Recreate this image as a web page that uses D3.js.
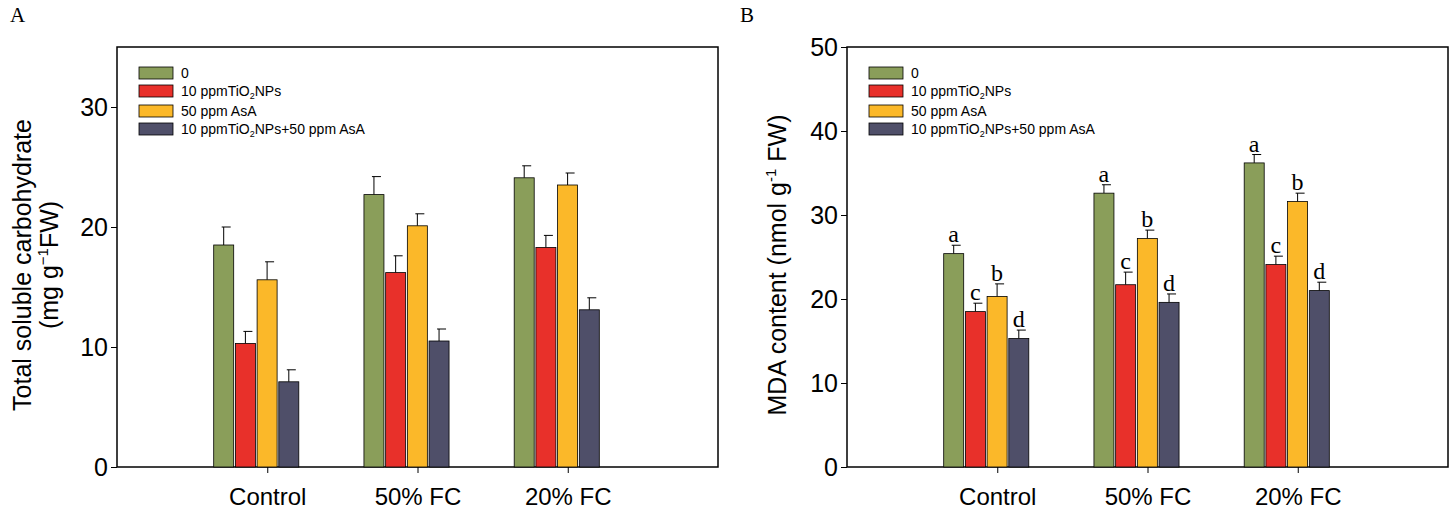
<!DOCTYPE html>
<html>
<head>
<meta charset="utf-8">
<script src="https://cdn.jsdelivr.net/npm/d3@7"></script>
<style>
  body { margin: 0; background: #fff; }
  svg text { font-family: "Liberation Sans", Arial, sans-serif; }
</style>
</head>
<body>
<svg id="chart" width="1449" height="512"></svg>
<script>
const categories = ["Control", "50% FC", "20% FC"];
const seriesNames = ["0", "10 ppmTiO2NPs", "50 ppm AsA", "10 ppmTiO2NPs+50 ppm AsA"];
const colors = ["#8a9e5a", "#e8302a", "#fbb829", "#4f4f69"];

// panel A: total soluble carbohydrate
const carbMean = [[18.5, 22.7, 24.1], [10.3, 16.2, 18.3], [15.6, 20.1, 23.5], [7.1, 10.5, 13.1]];
const carbErr = [[1.5, 1.5, 1.0], [1.0, 1.4, 1.0], [1.5, 1.0, 1.0], [1.0, 1.0, 1.0]];
const carbTicks = [0, 10, 20, 30];

// panel B: MDA content
const mdaMean = [[25.4, 32.6, 36.2], [18.5, 21.7, 24.1], [20.3, 27.2, 31.6], [15.3, 19.6, 21.0]];
const mdaErr = [[1.0, 1.0, 1.0], [1.0, 1.5, 1.0], [1.5, 1.0, 1.0], [1.0, 1.0, 1.0]];
const mdaTicks = [0, 10, 20, 30, 40, 50];
const mdaLetters = [["a", "a", "a"], ["c", "c", "c"], ["b", "b", "b"], ["d", "d", "d"]];

const svg = d3.select("#chart");

function panel(opts) {
  const left = opts.left, right = opts.left + 601, top = 47, bottom = 467;
  const g = svg.append("g");
  const x = d3.scaleLinear().domain([0, 4]).range([left, right]);
  const y = d3.scaleLinear().domain([0, opts.ymax]).range([bottom, top]);
  const barW = 20, step = 21.7, shift = -11;

  g.append("rect").attr("x", left).attr("y", top)
    .attr("width", right - left).attr("height", bottom - top)
    .attr("fill", "none").attr("stroke", "#000").attr("stroke-width", 1.5);

  const yAxis = g.append("g").attr("transform", `translate(${left},0)`)
    .call(d3.axisLeft(y).tickValues(opts.ticks).tickSize(6).tickFormat(d3.format("d")));
  yAxis.select(".domain").remove();
  yAxis.selectAll("text").attr("font-size", 25).attr("fill", "#000");

  const xAxis = g.append("g").attr("transform", `translate(0,${bottom})`)
    .call(d3.axisBottom(x).tickValues([1, 2, 3]).tickSize(6).tickFormat(d => categories[d - 1]));
  xAxis.select(".domain").remove();
  xAxis.selectAll("text").attr("font-size", 24).attr("fill", "#000").attr("dy", "1.2em");

  opts.mean.forEach((vals, s) => {
    vals.forEach((v, c) => {
      const cx = x(c + 1) + shift - 2 * step + s * step + step / 2;
      const yt = y(v), ye = y(v + opts.err[s][c]);
      g.append("line").attr("x1", cx).attr("x2", cx).attr("y1", yt).attr("y2", ye)
        .attr("stroke", "#000").attr("stroke-width", 1);
      g.append("line").attr("x1", cx - 2).attr("x2", cx + 7).attr("y1", ye).attr("y2", ye)
        .attr("stroke", "#000").attr("stroke-width", 1);
      g.append("rect").attr("x", cx - barW / 2).attr("y", yt)
        .attr("width", barW).attr("height", bottom - yt)
        .attr("fill", colors[s]).attr("stroke", "#000").attr("stroke-width", 0.8);
      if (opts.letters) {
        g.append("text").attr("x", cx).attr("y", ye - 3)
          .attr("text-anchor", "middle").attr("font-size", 24)
          .style("font-family", "'Liberation Serif', 'Times New Roman', serif")
          .text(opts.letters[s][c]);
      }
    });
  });

  // legend
  const legY = [73, 91, 111, 129];
  seriesNames.forEach((name, i) => {
    g.append("rect").attr("x", left + 22).attr("y", legY[i] - 6)
      .attr("width", 34).attr("height", 12)
      .attr("fill", colors[i]).attr("stroke", "#000").attr("stroke-width", 0.8);
    const t = g.append("text").attr("x", left + 64).attr("y", legY[i] + 5)
      .attr("font-size", 14).attr("fill", "#000");
    const parts = name.split("2");
    if (parts.length > 1) {
      t.append("tspan").text(parts[0]);
      t.append("tspan").attr("font-size", 9).attr("dy", 3).text("2");
      t.append("tspan").attr("dy", -3).text(parts.slice(1).join("2"));
    } else {
      t.text(name);
    }
  });

  svg.append("text").attr("x", opts.left - 107).attr("y", 22)
    .attr("font-size", 21)
    .style("font-family", "'Liberation Serif', 'Times New Roman', serif")
    .text(opts.tag);
  return g;
}

panel({ left: 117, ymax: 35, ticks: carbTicks, mean: carbMean, err: carbErr, tag: "A" });
panel({ left: 847, ymax: 50, ticks: mdaTicks, mean: mdaMean, err: mdaErr, letters: mdaLetters, tag: "B" });

// y titles
svg.append("text").attr("transform", "translate(31,265) rotate(-90)")
  .attr("text-anchor", "middle").attr("font-size", 25).text("Total soluble carbohydrate");
const tA2 = svg.append("text").attr("transform", "translate(58,265) rotate(-90)")
  .attr("text-anchor", "middle").attr("font-size", 25);
tA2.append("tspan").text("(mg g");
tA2.append("tspan").attr("font-size", 15).attr("dy", -10).text("−1");
tA2.append("tspan").attr("dy", 10).text("FW)");

const tB = svg.append("text").attr("transform", "translate(786,265) rotate(-90)")
  .attr("text-anchor", "middle").attr("font-size", 25);
tB.append("tspan").text("MDA content (nmol g");
tB.append("tspan").attr("font-size", 15).attr("dy", -10).text("-1");
tB.append("tspan").attr("dy", 10).text(" FW)");
</script>
</body>
</html>
